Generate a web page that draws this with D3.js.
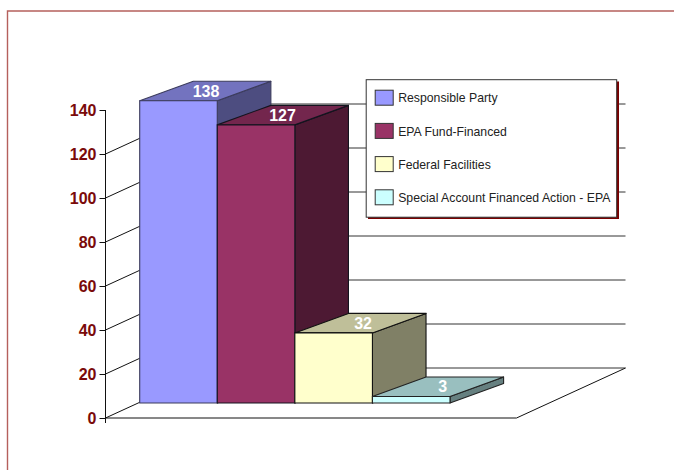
<!DOCTYPE html>
<html><head><meta charset="utf-8">
<script src="https://d3js.org/d3.v7.min.js"></script>
<style>html,body{margin:0;padding:0;background:#fff;overflow:hidden}svg{display:block}text{font-family:"Liberation Sans",Arial,sans-serif}</style>
</head><body><svg id="c" width="674" height="470"></svg>
<script>
const seriesNames = ["Responsible Party","EPA Fund-Financed","Federal Facilities","Special Account Financed Action - EPA"];
const seriesValues = [138,127,32,3];
const tickValues = [0,20,40,60,80,100,120,140];
const wallValues = [0,20,40,60,80,100,120];

const frontColors = ["#9999FF","#993366","#FFFFCC","#CCFFFF"];
const topColors = ["#7373BF","#73264D","#BFBF99","#99BFBF"];
const sideColors = ["#4D4D80","#4D1933","#808066","#668080"];
const edgeColors = ["#3c3c5c","#14141f","#111","#222"];
const labelNudgeX = [0.7,-0.3,2.6,4.7];

const svg = d3.select("#c");
const axisColor = "#111";
const dark = "#7A0A0A";

// frame
svg.append("path").attr("d","M7.5,470V11H674").attr("fill","none").attr("stroke","#B5605C").attr("stroke-width",1.4);

const yAxisScale = d3.scaleLinear().domain([0,140]).range([418,110]);
const yBar = d3.scaleLinear().domain([0,140]).range([403,96.4]);
const x = d3.scaleBand().domain(seriesNames).range([139.7,450]).padding(0);
const axisX = 105.5, floorW = 411, backDx = 109, backDy = -50;
const depthDx = 53.6, depthDy = -19.5;

// back wall gridlines
svg.append("g").selectAll("line").data(wallValues).join("line")
  .attr("x1",axisX+backDx).attr("x2",axisX+floorW+backDx)
  .attr("y1",d=>yAxisScale(d)+backDy).attr("y2",d=>yAxisScale(d)+backDy)
  .attr("stroke","#333").attr("stroke-width",1);
// side wall diagonals
svg.append("g").selectAll("line").data(wallValues).join("line")
  .attr("x1",axisX).attr("x2",axisX+backDx)
  .attr("y1",d=>yAxisScale(d)).attr("y2",d=>yAxisScale(d)+backDy)
  .attr("stroke","#111").attr("stroke-width",1);
// floor outline
svg.append("path")
  .attr("d",`M${axisX},418H${axisX+floorW}L${axisX+floorW+backDx},${418+backDy}`)
  .attr("fill","none").attr("stroke","#111").attr("stroke-width",1);

// axis
const axis = d3.axisLeft(yAxisScale).tickValues(tickValues).tickSize(6).tickPadding(3);
const ag = svg.append("g").attr("transform",`translate(${axisX},0)`).call(axis);
ag.select(".domain").attr("stroke",axisColor).attr("d","M0,110V423");
ag.selectAll(".tick line").attr("stroke",axisColor);
ag.selectAll(".tick text").attr("fill",dark).attr("font-size",16).attr("font-weight","bold")
  .attr("font-family",'"Liberation Sans",Arial,sans-serif').attr("x",-9);

// bars
const bars = svg.append("g").selectAll("g").data(seriesNames).join("g");
bars.each(function(name,i){
  const g = d3.select(this), x0 = x(name), x1 = x0 + x.bandwidth();
  const t = yBar(seriesValues[i]), b = yBar(0);
  const st = {stroke:edgeColors[i],"stroke-width":1.1,"stroke-linejoin":"round"};
  const poly = (pts,fill)=>{const p=g.append("polygon").attr("points",pts.map(q=>q.join(",")).join(" ")).attr("fill",fill);
    Object.entries(st).forEach(([k,v])=>p.attr(k,v));};
  poly([[x1,t],[x1+depthDx,t+depthDy],[x1+depthDx,b+depthDy],[x1,b]],sideColors[i]);
  poly([[x0,t],[x0+depthDx,t+depthDy],[x1+depthDx,t+depthDy],[x1,t]],topColors[i]);
  poly([[x0,t],[x1,t],[x1,b],[x0,b]],frontColors[i]);
});
// data labels
svg.append("g").selectAll("text").data(seriesValues).join("text")
  .attr("x",(d,i)=>x(seriesNames[i])+x.bandwidth()/2+depthDx/2+labelNudgeX[i])
  .attr("y",d=>yBar(d)+depthDy/2)
  .attr("dy","0.36em").attr("text-anchor","middle")
  .attr("fill","#fff").attr("font-size",16).attr("font-weight","bold").text(d=>d);

// legend
const lg = svg.append("g");
lg.append("rect").attr("x",368).attr("y",81.5).attr("width",251).attr("height",137.5).attr("fill","#7A0000");
lg.append("rect").attr("x",366.2).attr("y",79.7).attr("width",250.5).attr("height",137.5).attr("fill","#fff").attr("stroke","#333").attr("stroke-width",1);
const legendY = d3.scalePoint().domain(seriesNames).range([97.7,197.3]);
const items = lg.selectAll("g").data(seriesNames).join("g");
items.append("rect").attr("x",375.2).attr("y",d=>legendY(d)-7.5).attr("width",18).attr("height",15)
  .attr("fill",(d,i)=>frontColors[i]).attr("stroke","#333").attr("stroke-width",1);
items.append("text").attr("x",398.2).attr("y",d=>legendY(d)+0.3).attr("dy","0.36em")
  .attr("font-size",12.25).attr("fill","#222").text(d=>d);
</script></body></html>
